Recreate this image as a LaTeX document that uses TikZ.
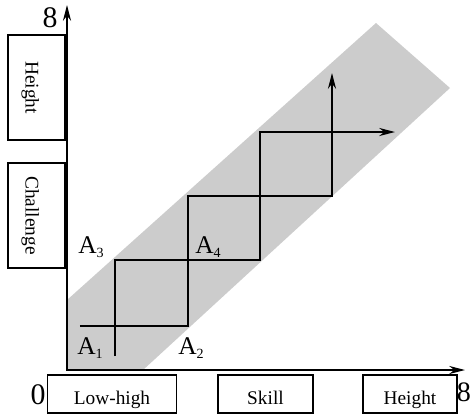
\documentclass[tikz,border=0pt]{standalone}
\usepackage{fontspec}
\setmainfont{Liberation Serif}
\usetikzlibrary{arrows.meta, positioning}

\tikzset{
    tagbox/.style={draw, line width=0.75pt, inner sep=0pt, font=\fontsize{11}{13}\selectfont},
    sidebox/.style={tagbox, rotate=-90, minimum width=2.1cm, minimum height=1.14cm,
        text height=15pt, text depth=2.5pt},
    footbox/.style={tagbox, minimum height=0.76cm, text height=11.4pt, text depth=0pt},
    ptname/.style={anchor=base west, inner sep=0pt, font=\fontsize{14.5}{16}\selectfont},
    axisnum/.style={inner sep=0pt, font=\fontsize{17}{19}\selectfont},
    stair/.style={line width=1.1pt},
}
\newcommand{\ptA}[1]{A\raisebox{-2.3pt}{\fontsize{8}{8}\selectfont #1}}

\begin{document}
\begin{tikzpicture}[x=0.02cm, y=-0.02cm, >={Stealth[length=9pt, width=4.6pt]}]

    % =================================================================
    % 1. KHUNG VA DAI XAM
    % =================================================================
    \clip (0,0) rectangle (471,414);

    % Dai xam cheo
    \fill[black!20] (67,370) -- (143,370) -- (450,88) -- (376,23) -- (67,300) -- cycle;

    % =================================================================
    % 2. HAI TRUC TOA DO
    % =================================================================
    \coordinate (O) at (67,370);
    \coordinate (Y) at (67,5);
    \coordinate (X) at (465,370);
    \draw[stair, <->] (Y) -- (O) -- (X);

    % =================================================================
    % 3. DUONG BAC THANG
    % =================================================================
    \coordinate (P1) at (80,326);
    \coordinate (P2) at (188,326);
    \coordinate (P3) at (188,196);
    \coordinate (P4) at (332,196);
    \coordinate (P5) at (332,73);

    \coordinate (Q1) at (115,356);
    \coordinate (Q2) at (115,260);
    \coordinate (Q3) at (260,260);
    \coordinate (Q4) at (260,132);
    \coordinate (Q5) at (395,132);

    \draw[stair, ->] (P1) -- (P2) -- (P3) -- (P4) -- (P5);
    \draw[stair, ->] (Q1) -- (Q2) -- (Q3) -- (Q4) -- (Q5);

    % Ten cac diem
    \node[ptname] (A1) at (77,354) {\ptA{1}};
    \node[ptname] (A2) at (178,354) {\ptA{2}};
    \node[ptname] (A3) at (78,253) {\ptA{3}};
    \node[ptname] (A4) at (195,253) {\ptA{4}};

    % =================================================================
    % 4. SO TREN TRUC VA CAC O CHU
    % =================================================================
    \node[axisnum] (top8) at (50,18) {8};
    \node[axisnum] (zero) at (38,395) {0};
    \node[axisnum, font=\fontsize{16}{18}\selectfont] (right8) at (464,392) {8};

    \node[sidebox] (height) at (36.5,87.5) {Height};
    \node[sidebox] (challenge) at (36.5,215.5) {Challenge};

    \node[footbox, minimum width=2.58cm] (lowhigh) at (112,394) {Low-high};
    \node[footbox, minimum width=1.9cm] (skill) at (265.5,394) {Skill};
    \node[footbox, minimum width=1.88cm] (heightx) at (410,394) {Height};

\end{tikzpicture}
\end{document}
